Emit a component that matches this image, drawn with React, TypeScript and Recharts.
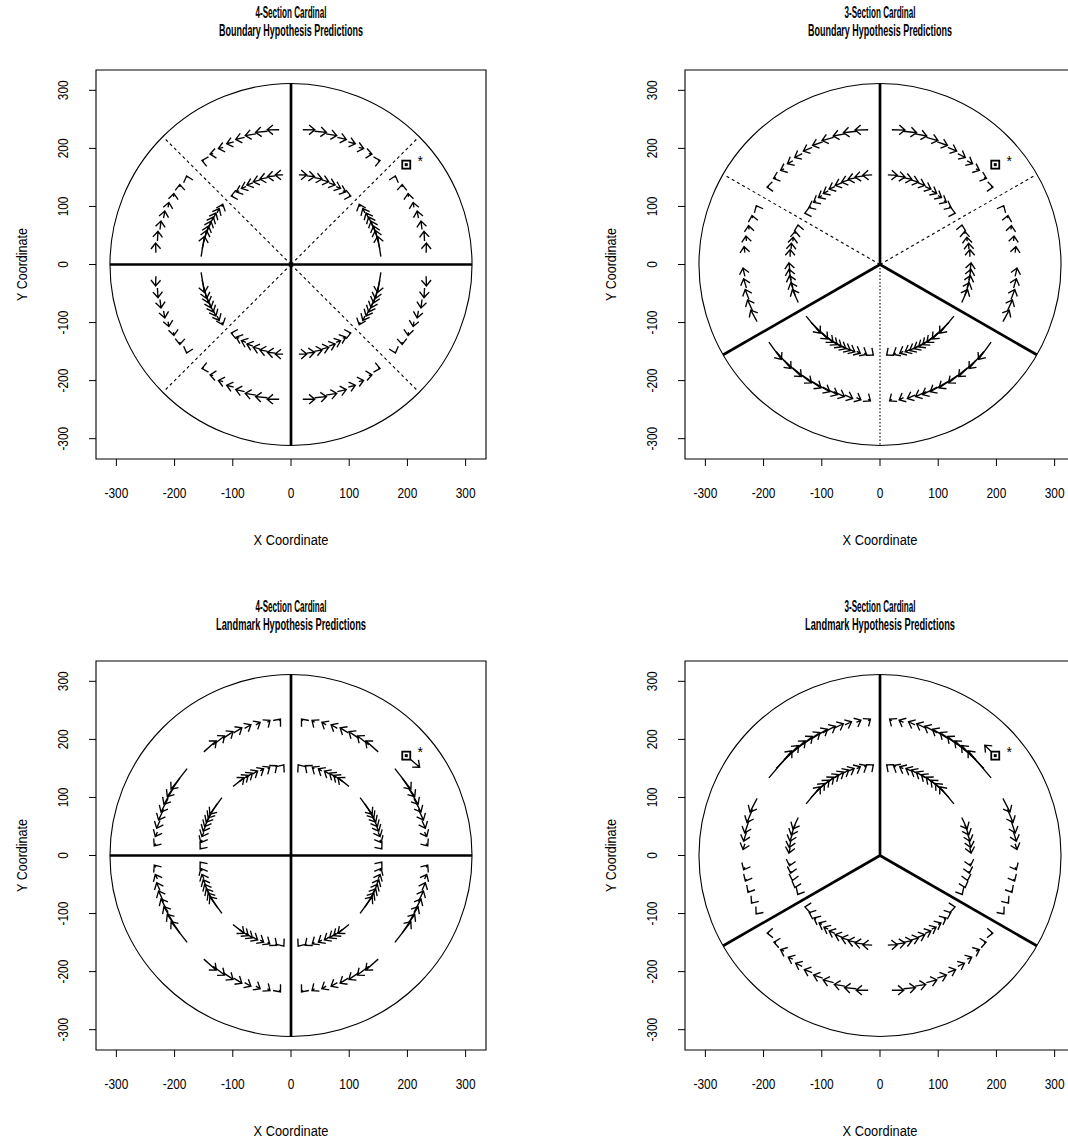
import React from 'react';
import { ScatterChart, Scatter, XAxis, YAxis, ReferenceLine, ReferenceArea } from 'recharts';

// ---- axes ----
const AXIS_TICKS = [-300, -200, -100, 0, 100, 200, 300];
const AXIS_DOMAIN: [number, number] = [-335, 335];

// ---- arena geometry (data units) ----
const ARENA_RADIUS = 311;
const DIVIDER_RADIUS = 305;
const RING_RADII = [155, 233]; // inner ring, outer ring
const RADIAL_DRIFT = [1.5, 2.5]; // predicted outward drift per ring

// ---- stimulus angles (degrees) ----
const QUAD_ANGLES = [5, 10, 15, 20, 25, 30, 35, 40, 50, 55, 60, 65, 70, 75, 80, 85];
const SIDE_ANGLES = [95, 100, 105, 110, 115, 120, 125, 130, 135, 140, 145, 155, 160, 165, 170, 175, 185, 190, 195, 200, 205];
const BOTTOM_ANGLES = [215, 220, 225, 230, 235, 240, 245, 250, 255, 260, 265];

// ---- predicted angular shifts (degrees, + = counter-clockwise) ----
const BOUNDARY4_INNER = [13, 12, 10, 8.5, 6.5, 4.5, 3, 1.5, -1, -2, -3, -4, -4.5, -5, -5, -5];
const BOUNDARY4_OUTER = [4, 4, 3.5, 3, 2, 1.3, 0.8, 0.4, -0.5, -1.2, -2, -3, -3.8, -4.5, -5, -5];
const LANDMARK4_INNER = [-0.8, -1.8, -3, -4.5, -6.5, -8.5, -10.5, -13, 9, 7, 5, 3.5, 2.5, 1.5, 1, 0.5];
const LANDMARK4_OUTER = [-1, -2, -3.5, -5, -6.5, -8, -9.5, -11, 7, 6, 5, 4, 3, 2, 1.2, 0.6];

const BOUNDARY3_SIDE_INNER = [6, 6, 5.5, 5, 4.5, 4, 3.5, 2.5, 1.8, 1.2, 0.6, -0.8, -1.5, -2.5, -3.5, -4.5, -6, -7, -8, -8.5, -9];
const BOUNDARY3_SIDE_OUTER = [5.5, 5.5, 5, 5, 4.5, 4, 3.5, 2.5, 1.5, 1, 0.5, -0.5, -1, -1.5, -2, -2.5, -3.5, -4, -4.5, -5, -5.5];
const BOUNDARY3_BOTTOM_INNER = [14, 15, 14, 12, 10, 8, 6, 4, 2.5, 1.5, 0.8];
const BOUNDARY3_BOTTOM_OUTER = [9, 9.5, 10, 10, 9.5, 8.5, 7, 5, 3.5, 2, 1];
const LANDMARK3_SIDE_INNER = [-0.8, -1.5, -2.5, -3.5, -5, -6.5, -8, -9.5, -11, -12.5, -14, 8, 7, 6, 5, 3.5, 1.5, 1.2, 1, 0.7, 0.4];
const LANDMARK3_SIDE_OUTER = [-1, -2, -3, -4.5, -6, -7.5, -9, -10.5, -12, -13.5, -15, 6.5, 6, 5.5, 4, 2.5, 1, 0.8, 0.6, 0.4, 0.3];
const LANDMARK3_BOTTOM_INNER = [-0.5, -1, -1.5, -2, -3, -4, -4.5, -5, -5.5, -6, -6];
const LANDMARK3_BOTTOM_OUTER = [-0.4, -0.7, -1.5, -2, -3, -3.5, -4, -4.5, -4.5, -5, -5];

// ---- target location and its marker ----
const TARGET = [{ x: 198, y: 172 }];
const TARGET_STAR = [{ x: 222, y: 178 }];
const TARGET_PREDICTION_LANDMARK4 = { x: 221, y: 152 };
const TARGET_PREDICTION_LANDMARK3 = { x: 180, y: 190 };

// ---- section dividers (degrees) ----
const SOLID_4 = [0, 90, 180, 270];
const DASHED_4 = [45, 135, 225, 315];
const SOLID_3 = [90, 210, 330];
const DASHED_3 = [30, 150];
const DOTTED_3 = [270];

const TITLE_TOP = ['4-Section Cardinal', '3-Section Cardinal'];
const TITLE_BOTTOM = ['Boundary Hypothesis Predictions', 'Landmark Hypothesis Predictions'];

type Pt = { x: number; y: number };
type Arrow = { from: Pt; to: Pt };
type Mirror = (a: number, s: number) => [number, number];

const rad = (d: number) => (d * Math.PI) / 180;
const polar = (r: number, deg: number): Pt => ({ x: r * Math.cos(rad(deg)), y: r * Math.sin(rad(deg)) });

const QUAD_MIRRORS: Mirror[] = [
  (a, s) => [a, s],
  (a, s) => [180 - a, -s],
  (a, s) => [180 + a, s],
  (a, s) => [360 - a, -s],
];
const SIDE_MIRRORS: Mirror[] = [(a, s) => [a, s], (a, s) => [180 - a, -s]];
const BOTTOM_MIRRORS: Mirror[] = [(a, s) => [a, s], (a, s) => [540 - a, -s]];

function ringArrows(angles: number[], shifts: number[], ring: number, mirrors: Mirror[]): Arrow[] {
  const r = RING_RADII[ring];
  const drift = RADIAL_DRIFT[ring];
  const out: Arrow[] = [];
  angles.forEach((a, i) => {
    mirrors.forEach((m) => {
      const [ang, sh] = m(a, shifts[i]);
      out.push({ from: polar(r, ang), to: polar(r + drift, ang + sh) });
    });
  });
  return out;
}

const HEAD_LEN = 7.5;
const HEAD_ANGLE = 40;

function ArrowShape(props: any) {
  const { x1, y1, x2, y2 } = props;
  const dx = x2 - x1;
  const dy = y2 - y1;
  const len = Math.hypot(dx, dy);
  if (!(len > 0.05)) return <g />;
  const ux = dx / len;
  const uy = dy / len;
  const c = Math.cos(rad(HEAD_ANGLE));
  const s = Math.sin(rad(HEAD_ANGLE));
  const b1x = x2 + HEAD_LEN * (-ux * c + uy * s);
  const b1y = y2 + HEAD_LEN * (-ux * s - uy * c);
  const b2x = x2 + HEAD_LEN * (-ux * c - uy * s);
  const b2y = y2 + HEAD_LEN * (ux * s - uy * c);
  return (
    <path
      d={`M${x1},${y1}L${x2},${y2}M${b1x},${b1y}L${x2},${y2}L${b2x},${b2y}`}
      fill="none"
      stroke="#000"
      strokeWidth={1.35}
      strokeLinejoin="miter"
    />
  );
}

function CircleShape(props: any) {
  const { x1, y1, x2, y2 } = props;
  return (
    <circle cx={(x1 + x2) / 2} cy={(y1 + y2) / 2} r={Math.abs(x2 - x1) / 2} fill="none" stroke="#000" strokeWidth={1.1} />
  );
}

function TargetShape(props: any) {
  const { cx, cy } = props;
  return (
    <g>
      <rect x={cx - 4} y={cy - 4} width={8} height={8} fill="#fff" stroke="#000" strokeWidth={1.8} />
      <rect x={cx - 1.5} y={cy - 1.5} width={3} height={3} fill="#000" />
    </g>
  );
}

function StarShape(props: any) {
  const { cx, cy } = props;
  return (
    <text x={cx} y={cy + 5} textAnchor="middle" fontSize={14} fontFamily="Liberation Sans, Arial, sans-serif" fill="#000">
      *
    </text>
  );
}

const FONT = "'Liberation Sans', Arial, sans-serif";
const TITLE_FONT = "'Liberation Sans Narrow', 'Liberation Sans', Arial, sans-serif";

function XTick(props: any) {
  const { x, y, payload } = props;
  return (
    <g transform={`translate(${x},${y + 25}) scale(0.85,1)`}>
      <text textAnchor="middle" dominantBaseline="central" fontSize={14} fontFamily={FONT} fill="#000">
        {payload.value}
      </text>
    </g>
  );
}

function YTick(props: any) {
  const { x, y, payload } = props;
  return (
    <g transform={`translate(${x - 24},${y}) rotate(-90) scale(0.85,1)`}>
      <text textAnchor="middle" dominantBaseline="central" fontSize={14} fontFamily={FONT} fill="#000">
        {payload.value}
      </text>
    </g>
  );
}

type PanelSpec = {
  left: number;
  top: number;
  titleY: number;
  title: string[];
  arrows: Arrow[];
  solid: number[];
  dashed: number[];
  dotted: number[];
  targetPrediction?: Pt;
};

const PANELS: PanelSpec[] = [
  {
    left: 0,
    top: 0,
    titleY: 12,
    title: [TITLE_TOP[0], TITLE_BOTTOM[0]],
    arrows: [
      ...ringArrows(QUAD_ANGLES, BOUNDARY4_INNER, 0, QUAD_MIRRORS),
      ...ringArrows(QUAD_ANGLES, BOUNDARY4_OUTER, 1, QUAD_MIRRORS),
    ],
    solid: SOLID_4,
    dashed: DASHED_4,
    dotted: [],
  },
  {
    left: 589,
    top: 0,
    titleY: 12,
    title: [TITLE_TOP[1], TITLE_BOTTOM[0]],
    arrows: [
      ...ringArrows(SIDE_ANGLES, BOUNDARY3_SIDE_INNER, 0, SIDE_MIRRORS),
      ...ringArrows(SIDE_ANGLES, BOUNDARY3_SIDE_OUTER, 1, SIDE_MIRRORS),
      ...ringArrows(BOTTOM_ANGLES, BOUNDARY3_BOTTOM_INNER, 0, BOTTOM_MIRRORS),
      ...ringArrows(BOTTOM_ANGLES, BOUNDARY3_BOTTOM_OUTER, 1, BOTTOM_MIRRORS),
    ],
    solid: SOLID_3,
    dashed: DASHED_3,
    dotted: DOTTED_3,
  },
  {
    left: 0,
    top: 591,
    titleY: 606,
    title: [TITLE_TOP[0], TITLE_BOTTOM[1]],
    arrows: [
      ...ringArrows(QUAD_ANGLES, LANDMARK4_INNER, 0, QUAD_MIRRORS),
      ...ringArrows(QUAD_ANGLES, LANDMARK4_OUTER, 1, QUAD_MIRRORS),
    ],
    solid: SOLID_4,
    dashed: [],
    dotted: [],
    targetPrediction: TARGET_PREDICTION_LANDMARK4,
  },
  {
    left: 589,
    top: 591,
    titleY: 606,
    title: [TITLE_TOP[1], TITLE_BOTTOM[1]],
    arrows: [
      ...ringArrows(SIDE_ANGLES, LANDMARK3_SIDE_INNER, 0, SIDE_MIRRORS),
      ...ringArrows(SIDE_ANGLES, LANDMARK3_SIDE_OUTER, 1, SIDE_MIRRORS),
      ...ringArrows(BOTTOM_ANGLES, LANDMARK3_BOTTOM_INNER, 0, BOTTOM_MIRRORS),
      ...ringArrows(BOTTOM_ANGLES, LANDMARK3_BOTTOM_OUTER, 1, BOTTOM_MIRRORS),
    ],
    solid: SOLID_3,
    dashed: [],
    dotted: [],
    targetPrediction: TARGET_PREDICTION_LANDMARK3,
  },
];

const CHART_W = 534;
const CHART_H = 569;
const MARGIN = { top: 70, right: 48, bottom: 50, left: 36 };
const PLOT_LEFT = 96;
const PLOT_W = 390;
const PLOT_H = 389;

function Panel({ spec }: { spec: PanelSpec }) {
  const origin = { x: 0, y: 0 };
  return (
    <div style={{ position: 'absolute', left: spec.left, top: spec.top }}>
      <ScatterChart width={CHART_W} height={CHART_H} margin={MARGIN}>
        <XAxis
          type="number"
          dataKey="x"
          domain={AXIS_DOMAIN}
          ticks={AXIS_TICKS}
          interval={0}
          allowDataOverflow
          axisLine={false}
          tickLine={{ stroke: '#000', strokeWidth: 1 }}
          tickSize={7}
          height={60}
          tick={<XTick />}
        />
        <YAxis
          type="number"
          dataKey="y"
          domain={AXIS_DOMAIN}
          ticks={AXIS_TICKS}
          interval={0}
          allowDataOverflow
          axisLine={false}
          tickLine={{ stroke: '#000', strokeWidth: 1 }}
          tickSize={7}
          width={60}
          tick={<YTick />}
        />
        <ReferenceArea
          x1={AXIS_DOMAIN[0]}
          x2={AXIS_DOMAIN[1]}
          y1={AXIS_DOMAIN[0]}
          y2={AXIS_DOMAIN[1]}
          fill="none"
          stroke="#000"
          strokeWidth={1.1}
          ifOverflow="visible"
        />
        <ReferenceLine
          segment={[{ x: -ARENA_RADIUS, y: 0 }, { x: ARENA_RADIUS, y: 0 }]}
          shape={<CircleShape />}
          ifOverflow="visible"
        />
        {spec.dashed.map((a) => (
          <ReferenceLine
            key={`d${a}`}
            segment={[origin, polar(DIVIDER_RADIUS, a)]}
            stroke="#000"
            strokeWidth={1.1}
            strokeDasharray="3 3"
            ifOverflow="visible"
          />
        ))}
        {spec.dotted.map((a) => (
          <ReferenceLine
            key={`o${a}`}
            segment={[origin, polar(ARENA_RADIUS, a)]}
            stroke="#000"
            strokeWidth={1.1}
            strokeDasharray="1.5 2"
            ifOverflow="visible"
          />
        ))}
        {spec.solid.map((a) => (
          <ReferenceLine
            key={`s${a}`}
            segment={[origin, polar(ARENA_RADIUS, a)]}
            stroke="#000"
            strokeWidth={2.7}
            ifOverflow="visible"
          />
        ))}
        {spec.arrows.map((ar, i) => (
          <ReferenceLine key={`a${i}`} segment={[ar.from, ar.to]} shape={<ArrowShape />} ifOverflow="visible" />
        ))}
        {spec.targetPrediction && (
          <ReferenceLine segment={[TARGET[0], spec.targetPrediction]} shape={<ArrowShape />} ifOverflow="visible" />
        )}
        <Scatter data={TARGET} shape={<TargetShape />} isAnimationActive={false} />
        <Scatter data={TARGET_STAR} shape={<StarShape />} isAnimationActive={false} />
      </ScatterChart>
    </div>
  );
}

function Labels() {
  return (
    <svg width={1068} height={1139} style={{ position: 'absolute', left: 0, top: 0, pointerEvents: 'none' }}>
      {PANELS.map((p, i) => {
        const cx = p.left + PLOT_LEFT + PLOT_W / 2;
        const plotTop = p.top + MARGIN.top;
        const cy = plotTop + PLOT_H / 2;
        return (
          <g key={i} fill="#000">
            <text x={cx} y={p.titleY} textAnchor="middle" dominantBaseline="central" fontFamily={TITLE_FONT} fontSize={16} fontWeight="bold" textLength={71} lengthAdjust="spacingAndGlyphs">
              {p.title[0]}
            </text>
            <text x={cx} y={p.titleY + 18} textAnchor="middle" dominantBaseline="central" fontFamily={TITLE_FONT} fontSize={16} fontWeight="bold" textLength={p.title[1].startsWith('Land') ? 150 : 144} lengthAdjust="spacingAndGlyphs">
              {p.title[1]}
            </text>
            <text x={cx} y={plotTop + PLOT_H + 81} textAnchor="middle" dominantBaseline="central" fontFamily={FONT} fontSize={14} textLength={75} lengthAdjust="spacingAndGlyphs">
              X Coordinate
            </text>
            <text
              transform={`translate(${p.left + 22},${cy}) rotate(-90)`}
              textAnchor="middle"
              dominantBaseline="central"
              fontFamily={FONT}
              fontSize={14}
              textLength={73}
              lengthAdjust="spacingAndGlyphs"
            >
              Y Coordinate
            </text>
          </g>
        );
      })}
    </svg>
  );
}

export default function App() {
  return (
    <div style={{ position: 'absolute', left: 0, top: 0, width: 1068, height: 1139, overflow: 'hidden', background: '#fff' }}>
      {PANELS.map((p, i) => (
        <Panel key={i} spec={p} />
      ))}
      <Labels />
    </div>
  );
}
